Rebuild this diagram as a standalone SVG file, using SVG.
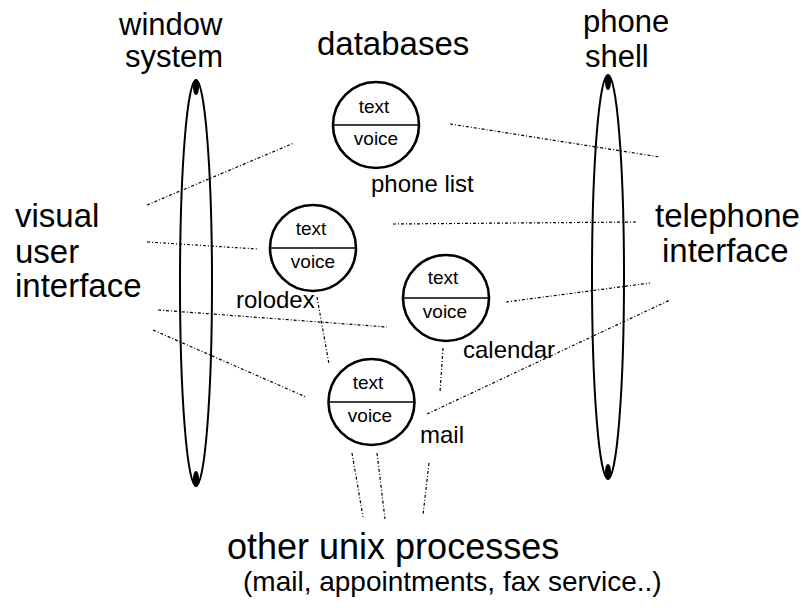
<svg xmlns="http://www.w3.org/2000/svg" width="802" height="608" viewBox="0 0 802 608">
<style>
  text { font-family: "Liberation Sans", Arial, Helvetica, sans-serif; fill: #000; }
  .big { font-size: 33px; }
  .head { font-size: 31px; }
  .mid { font-size: 24px; }
  .small { font-size: 19px; text-anchor: middle; }
  .node circle { fill: #fff; stroke: #000; stroke-width: 2.6; }
  .node line { stroke: #000; stroke-width: 1.6; }
  .shell { fill: none; stroke: #000; stroke-width: 2; }
  .tip { fill: #000; }
  .conn line { stroke: #000; stroke-width: 1.2; stroke-dasharray: 3 2 1 2; fill: none; }
</style>
<rect width="802" height="608" fill="#fff"/>

<g id="connectors" class="conn">
  <line x1="147" y1="205" x2="294" y2="143"/>
  <line x1="450" y1="124" x2="660" y2="157"/>
  <line x1="147" y1="242" x2="258" y2="249"/>
  <line x1="393" y1="224" x2="637" y2="222"/>
  <line x1="506" y1="302" x2="650" y2="283"/>
  <line x1="158" y1="310" x2="387" y2="327"/>
  <line x1="153" y1="330" x2="306" y2="397"/>
  <line x1="317" y1="297" x2="329" y2="364"/>
  <line x1="443" y1="348" x2="440" y2="392"/>
  <line x1="427" y1="414" x2="670" y2="300"/>
  <line x1="352" y1="453" x2="363" y2="517"/>
  <line x1="377" y1="453" x2="385" y2="519"/>
  <line x1="429" y1="463" x2="423" y2="515"/>
</g>

<g id="window-system">
  <ellipse class="shell" cx="196" cy="283" rx="16" ry="203"/>
  <ellipse class="tip" cx="196" cy="87" rx="3" ry="8"/>
  <ellipse class="tip" cx="196" cy="479" rx="3" ry="8"/>
  <text class="head" x="119" y="35">window</text>
  <text class="head" x="125" y="67">system</text>
</g>

<g id="phone-shell">
  <ellipse class="shell" cx="608" cy="277" rx="16" ry="202"/>
  <ellipse class="tip" cx="608" cy="82" rx="3" ry="8"/>
  <ellipse class="tip" cx="608" cy="472" rx="3" ry="8"/>
  <text class="head" x="583" y="32">phone</text>
  <text class="head" x="585" y="67">shell</text>
</g>

<g id="databases-label">
  <text class="big" x="317" y="55">databases</text>
</g>

<g id="visual-user-interface">
  <text class="big" x="15" y="227">visual</text>
  <text class="big" x="15" y="263">user</text>
  <text class="big" x="15" y="297">interface</text>
</g>

<g id="telephone-interface">
  <text class="big" x="655" y="227">telephone</text>
  <text class="big" x="662" y="262">interface</text>
</g>

<g id="phone-list" class="node">
  <circle cx="376" cy="125" r="43"/>
  <line x1="333" y1="125" x2="419" y2="125"/>
  <text class="small" x="374" y="113">text</text>
  <text class="small" x="376" y="145">voice</text>
  <text class="mid" x="371" y="192" font-size="25">phone list</text>
</g>

<g id="rolodex" class="node">
  <circle cx="313" cy="248" r="43"/>
  <line x1="270" y1="248" x2="356" y2="248"/>
  <text class="small" x="311" y="235">text</text>
  <text class="small" x="313" y="268">voice</text>
  <text class="mid" x="236" y="308">rolodex</text>
</g>

<g id="calendar" class="node">
  <circle cx="446" cy="298" r="43"/>
  <line x1="403" y1="298" x2="489" y2="298"/>
  <text class="small" x="443" y="284">text</text>
  <text class="small" x="445" y="318">voice</text>
  <text class="mid" x="463" y="358">calendar</text>
</g>

<g id="mail" class="node">
  <circle cx="371.5" cy="402" r="43"/>
  <line x1="328.5" y1="402" x2="414.5" y2="402"/>
  <text class="small" x="368" y="389">text</text>
  <text class="small" x="370" y="422">voice</text>
  <text class="mid" x="420" y="443" font-size="23">mail</text>
</g>

<g id="other-unix-processes">
  <text x="227" y="559" font-size="36">other unix processes</text>
  <text x="243" y="591" font-size="28">(mail, appointments, fax service..)</text>
</g>
</svg>
